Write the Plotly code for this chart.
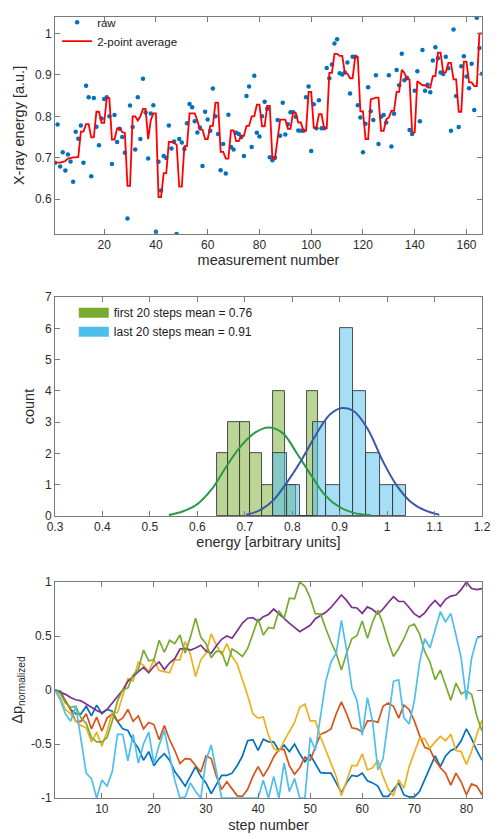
import plotly.graph_objects as go

# ---------------- top panel data ----------------
measurement = list(range(1, 167))
raw = [0.688, 0.780, 0.679, 0.713, 0.669, 0.708, 0.691, 0.642, 0.763, 0.746,
       0.778, 0.688, 0.874, 0.846, 0.655, 0.844, 0.775, 0.730, 0.795, 0.842,
       0.846, 0.800, 0.685, 0.803, 0.738, 0.770, 0.750, 0.712, 0.553, 0.826,
       0.774, 0.720, 0.846, 0.745, 0.891, 0.809, 0.698, 0.807, 0.827, 0.521,
       0.690, 0.621, 0.704, 0.699, 0.778, 0.722, 0.739, 0.516, 0.745, 0.737,
       0.721, 0.783, 0.830, 0.822, 0.788, 0.761, 0.773, 0.680, 0.811, 0.792,
       0.765, 0.867, 0.800, 0.757, 0.670, 0.733, 0.662, 0.804, 0.726, 0.720,
       0.760, 0.757, 0.750, 0.704, 0.849, 0.872, 0.726, 0.898, 0.760, 0.751,
       0.800, 0.835, 0.818, 0.701, 0.694, 0.700, 0.791, 0.753, 0.833, 0.756,
       0.781, 0.810, 0.810, 0.799, 0.766, 0.765, 0.765, 0.846, 0.872, 0.716,
       0.829, 0.771, 0.839, 0.771, 0.771, 0.917, 0.892, 0.925, 0.976, 0.986,
       0.904, 0.901, 0.906, 0.930, 0.855, 0.944, 0.944, 0.827, 0.797, 0.713,
       0.782, 0.870, 0.812, 0.791, 0.899, 0.733, 0.799, 0.803, 0.785, 0.899,
       0.727, 0.806, 0.912, 0.875, 0.951, 0.887, 0.893, 0.767, 0.757, 0.862,
       0.909, 0.788, 0.960, 0.862, 0.876, 0.858, 0.935, 0.967, 0.940, 0.906,
       0.902, 0.944, 0.916, 0.765, 1.010, 0.849, 0.774, 0.921, 0.945, 0.896,
       0.868, 0.927, 0.815, 1.038, 0.965, 0.903]
avg2 = [0.688, 0.688, 0.688, 0.690, 0.692, 0.698, 0.700, 0.701, 0.701, 0.702,
        0.763, 0.763, 0.781, 0.781, 0.749, 0.749, 0.811, 0.811, 0.784, 0.784,
        0.844, 0.844, 0.744, 0.744, 0.771, 0.771, 0.762, 0.760, 0.632, 0.632,
        0.800, 0.800, 0.790, 0.800, 0.818, 0.818, 0.745, 0.790, 0.807, 0.807,
        0.605, 0.605, 0.663, 0.663, 0.738, 0.738, 0.735, 0.732, 0.630, 0.630,
        0.728, 0.728, 0.807, 0.807, 0.807, 0.790, 0.768, 0.768, 0.745, 0.745,
        0.777, 0.777, 0.833, 0.833, 0.714, 0.714, 0.698, 0.698, 0.766, 0.766,
        0.740, 0.740, 0.753, 0.753, 0.777, 0.777, 0.800, 0.800, 0.828, 0.828,
        0.776, 0.776, 0.825, 0.825, 0.698, 0.698, 0.743, 0.792, 0.792, 0.792,
        0.770, 0.770, 0.809, 0.809, 0.785, 0.785, 0.765, 0.765, 0.859, 0.859,
        0.772, 0.772, 0.805, 0.805, 0.771, 0.771, 0.905, 0.905, 0.951, 0.951,
        0.946, 0.946, 0.905, 0.903, 0.892, 0.892, 0.944, 0.944, 0.812, 0.812,
        0.745, 0.745, 0.841, 0.843, 0.845, 0.845, 0.765, 0.765, 0.793, 0.797,
        0.813, 0.813, 0.859, 0.859, 0.912, 0.905, 0.889, 0.889, 0.761, 0.761,
        0.885, 0.880, 0.875, 0.875, 0.870, 0.869, 0.897, 0.897, 0.954, 0.954,
        0.906, 0.906, 0.929, 0.929, 0.889, 0.889, 0.811, 0.811, 0.932, 0.932,
        0.882, 0.882, 0.873, 0.873, 1.000, 1.000]

# ---------------- middle panel data ----------------
first20_edges = [0.641, 0.665, 0.689, 0.712, 0.736, 0.760, 0.784, 0.808, 0.832, 0.855]
first20_counts = [2, 3, 3, 2, 1, 4, 1, 0, 4]
last20_edges = [0.760, 0.788, 0.816, 0.844, 0.872, 0.900, 0.928, 0.956, 0.984, 1.012, 1.040]
last20_counts = [2, 1, 0, 3, 1, 6, 4, 2, 1, 1]
first_fit_x = [0.540, 0.570, 0.600, 0.630, 0.660, 0.690, 0.720, 0.750, 0.780,
               0.810, 0.840, 0.870, 0.900, 0.930, 0.965]
first_fit_y = [0.03, 0.15, 0.38, 0.85, 1.55, 2.20, 2.65, 2.83, 2.65,
               2.00, 1.30, 0.65, 0.28, 0.10, 0.03]
last_fit_x = [0.703, 0.730, 0.760, 0.790, 0.820, 0.850, 0.880, 0.905, 0.930,
              0.960, 0.990, 1.020, 1.050, 1.080, 1.110]
last_fit_y = [0.04, 0.17, 0.50, 1.10, 1.80, 2.60, 3.25, 3.45, 3.35,
              2.76, 1.78, 0.98, 0.45, 0.18, 0.04]
first_label = "first 20 steps mean = 0.76"
last_label = "last 20 steps mean = 0.91"

# ---------------- bottom panel data ----------------
steps = list(range(1, 84))
walk_blue = [0, -0.01, -0.10, -0.18, -0.22, -0.22, -0.15, -0.24, -0.14, -0.22,
             -0.18, -0.195, -0.29, -0.36, -0.375, -0.47, -0.54, -0.65, -0.57, -0.70,
             -0.635, -0.59, -0.65, -0.755, -0.82, -0.89, -0.80, -0.71, -0.80, -0.86,
             -0.96, -0.88, -0.79, -0.79, -0.77, -0.70, -0.61, -0.47, -0.46, -0.56,
             -0.455, -0.48, -0.48, -0.56, -0.51, -0.57, -0.50, -0.59, -0.665, -0.60,
             -0.68, -0.765, -0.77, -0.77, -0.86, -0.95, -0.86, -0.79, -0.80, -0.77,
             -0.84, -0.86, -0.89, -0.985, -0.985, -0.92, -0.86, -0.97, -0.99, -0.99,
             -0.94, -0.83, -0.725, -0.61, -0.71, -0.61, -0.56, -0.54, -0.47, -0.36,
             -0.45, -0.56, -0.65]
walk_red = [0, -0.03, -0.10, -0.18, -0.29, -0.29, -0.22, -0.36, -0.25, -0.38,
            -0.26, -0.22, -0.29, -0.26, -0.18, -0.29, -0.24, -0.36, -0.30, -0.32,
            -0.46, -0.33, -0.46, -0.56, -0.68, -0.635, -0.64, -0.70, -0.76, -0.61,
            -0.635, -0.80, -0.92, -0.85, -0.92, -0.98, -0.985, -0.92, -0.80, -0.71,
            -0.80, -0.72, -0.62, -0.55, -0.55, -0.70, -0.78, -0.72, -0.62, -0.65,
            -0.53, -0.41, -0.39, -0.36, -0.22, -0.11, -0.22, -0.35, -0.36, -0.39,
            -0.285, -0.285, -0.30, -0.15, -0.12, -0.15, -0.26, -0.14, -0.18, -0.285,
            -0.42, -0.53, -0.55, -0.65, -0.72, -0.77, -0.88, -0.77, -0.85, -0.97,
            -0.87, -0.89, -0.97]
walk_yellow = [0, -0.07, -0.18, -0.22, -0.29, -0.33, -0.35, -0.48, -0.39, -0.52,
               -0.38, -0.21, -0.21, -0.04, 0.105, 0.085, 0.26, 0.23, 0.17, 0.28,
               0.18, 0.17, 0.16, 0.28, 0.28, 0.45, 0.33, 0.125, 0.28, 0.34,
               0.52, 0.415, 0.325, 0.43, 0.31, 0.24, 0.095, -0.05, -0.22, -0.26,
               -0.25, -0.42, -0.54, -0.57, -0.47, -0.39, -0.30, -0.16, -0.13, -0.285,
               -0.285, -0.435, -0.56, -0.68, -0.80, -0.98, -0.83, -0.70, -0.70, -0.59,
               -0.74, -0.72, -0.65, -0.80, -0.92, -0.98, -0.83, -0.91, -0.71, -0.575,
               -0.45, -0.45, -0.54, -0.48, -0.43, -0.47, -0.41, -0.56, -0.57, -0.69,
               -0.57, -0.41, -0.28]
walk_purple = [0, -0.02, -0.04, -0.07, -0.09, -0.10, -0.13, -0.16, -0.19, -0.21,
               -0.18, -0.12, -0.06, 0.0, 0.08, 0.13, 0.17, 0.21, 0.16, 0.22,
               0.26, 0.19, 0.25, 0.29, 0.38, 0.385, 0.37, 0.39, 0.415, 0.36,
               0.34, 0.41, 0.47, 0.50, 0.48, 0.55, 0.62, 0.665, 0.67, 0.635,
               0.68, 0.70, 0.75, 0.705, 0.66, 0.62, 0.58, 0.54, 0.57, 0.60,
               0.66, 0.69, 0.72, 0.765, 0.82, 0.88, 0.83, 0.765, 0.76, 0.71,
               0.77, 0.745, 0.705, 0.75, 0.81, 0.865, 0.82, 0.82, 0.765, 0.705,
               0.675, 0.715, 0.78, 0.83, 0.775, 0.84, 0.87, 0.88, 0.93, 1.0,
               0.94, 0.93, 0.94]
walk_green = [0, -0.03, -0.12, -0.16, -0.15, -0.26, -0.31, -0.44, -0.48, -0.48,
              -0.44, -0.29, -0.10, 0.0, 0.02, 0.14, 0.19, 0.37, 0.27, 0.28,
              0.46, 0.35, 0.46, 0.43, 0.51, 0.34, 0.49, 0.665, 0.49, 0.43,
              0.30, 0.36, 0.355, 0.22, 0.38, 0.35, 0.31, 0.385, 0.52, 0.66,
              0.51, 0.58, 0.57, 0.735, 0.665, 0.85, 0.845, 1.0, 0.96, 0.855,
              0.705, 0.705, 0.57, 0.445, 0.34, 0.185, 0.34, 0.475, 0.505, 0.64,
              0.48, 0.63, 0.74, 0.61, 0.445, 0.31, 0.385, 0.475, 0.59, 0.61,
              0.52, 0.355, 0.26, 0.095, 0.185, 0.05, -0.095, 0.065, -0.035, -0.01,
              -0.04, -0.24, -0.38]
walk_cyan = [0, -0.09, -0.22, -0.29, -0.15, -0.47, -0.77, -0.82, -1.0, -0.835,
             -0.89, -0.755, -0.41, -0.41, -0.655, -0.41, -0.675, -0.50, -0.39, -0.685,
             -0.51, -0.375, -0.59, -0.835, -1.0, -0.99, -0.86, -0.94, -1.0, -0.65,
             -0.51, -0.77, -1.0, -1.0, -1.0, -1.0, -1.0, -1.0, -1.0, -1.0,
             -0.835, -1.0, -0.80, -1.0, -0.675, -0.94, -0.82, -1.0, -1.0, -0.44,
             -0.56, -0.255, 0.08, 0.26, 0.34, 0.645, 0.37, 0.02, -0.10, -0.42,
             -0.07, -0.295, -0.74, -0.635, -0.255, 0.08, 0.095, -0.255, -0.315, -0.10,
             0.25, 0.475, 0.39, 0.57, 0.725, 0.63, 0.71, 0.51, 0.295, -0.09,
             0.295, 0.475, 0.505]

# ---------------- figure ----------------
FONT = "Liberation Sans, Arial, Helvetica, sans-serif"
AX = "#7a7a7a"
TXT = "#2b2b2b"

fig = go.Figure()

fig.add_trace(go.Scatter(x=measurement, y=raw, mode="markers", name="raw",
                         marker=dict(color="#0072BD", size=4.5),
                         xaxis="x", yaxis="y", legend="legend"))
fig.add_trace(go.Scatter(x=measurement, y=avg2, mode="lines", name="2-point average",
                         line=dict(color="#FF0000", width=1.8),
                         xaxis="x", yaxis="y", legend="legend"))


def centers(edges):
    return [(edges[i] + edges[i + 1]) / 2 for i in range(len(edges) - 1)]


def widths(edges):
    return [edges[i + 1] - edges[i] for i in range(len(edges) - 1)]


fig.add_trace(go.Bar(x=centers(first20_edges), y=first20_counts, width=widths(first20_edges),
                     marker=dict(color="rgba(119,172,48,0.5)", line=dict(color="#3a3a3a", width=0.9)),
                     showlegend=False, xaxis="x2", yaxis="y2"))
fig.add_trace(go.Bar(x=centers(last20_edges), y=last20_counts, width=widths(last20_edges),
                     marker=dict(color="rgba(77,190,238,0.5)", line=dict(color="#3a3a3a", width=0.9)),
                     showlegend=False, xaxis="x2", yaxis="y2"))
fig.add_trace(go.Scatter(x=first_fit_x, y=first_fit_y, mode="lines", line=dict(color="#2A9A47", width=2, shape="spline"),
                         showlegend=False, xaxis="x2", yaxis="y2"))
fig.add_trace(go.Scatter(x=last_fit_x, y=last_fit_y, mode="lines", line=dict(color="#3B57A8", width=2, shape="spline"),
                         showlegend=False, xaxis="x2", yaxis="y2"))
fig.add_trace(go.Scatter(x=[None], y=[None], mode="lines", name=first_label,
                         line=dict(color="#77AC30", width=10), xaxis="x2", yaxis="y2", legend="legend2"))
fig.add_trace(go.Scatter(x=[None], y=[None], mode="lines", name=last_label,
                         line=dict(color="#4DBEEE", width=10), xaxis="x2", yaxis="y2", legend="legend2"))

walks = [(walk_blue, "#0072BD"), (walk_red, "#D95319"), (walk_yellow, "#EDB120"),
         (walk_purple, "#7E2F8E"), (walk_green, "#77AC30"), (walk_cyan, "#4DBEEE")]
for vals, col in walks:
    fig.add_trace(go.Scatter(x=steps, y=vals, mode="lines", line=dict(color=col, width=1.7),
                             showlegend=False, xaxis="x3", yaxis="y3"))

ax = dict(showline=True, linecolor=AX, linewidth=1, mirror="ticks", ticks="inside",
          ticklen=5, tickcolor=AX, tickfont=dict(size=12, color=TXT, family=FONT),
          showgrid=False, zeroline=False, ticklabeloverflow="allow")

fig.update_layout(
    width=499, height=839,
    margin=dict(l=55, r=9, t=8, b=39),
    paper_bgcolor="white", plot_bgcolor="white",
    font=dict(family=FONT, color=TXT),
    barmode="overlay", bargap=0,
    xaxis=dict(ax, domain=[0, 1], anchor="y", range=[1, 166],
               tickvals=[20, 40, 60, 80, 100, 120, 140, 160],
               title=dict(text="measurement number", font=dict(size=14.5), standoff=3)),
    yaxis=dict(ax, domain=[0.7222, 1], anchor="x", range=[0.5158, 1.0399],
               tickvals=[0.6, 0.7, 0.8, 0.9, 1.0], ticktext=["0.6", "0.7", "0.8", "0.9", "1"],
               title=dict(text="X-ray energy [a.u.]", font=dict(size=14.5), standoff=6)),
    xaxis2=dict(ax, domain=[0, 1], anchor="y2", range=[0.3, 1.2],
                tickvals=[0.3, 0.4, 0.5, 0.6, 0.7, 0.8, 0.9, 1.0, 1.1, 1.2],
                ticktext=["0.3", "0.4", "0.5", "0.6", "0.7", "0.8", "0.9", "1", "1.1", "1.2"],
                title=dict(text="energy [arbitrary units]", font=dict(size=14.5), standoff=3)),
    yaxis2=dict(ax, domain=[0.3611, 0.6414], anchor="x2", range=[0, 7],
                tickvals=[0, 1, 2, 3, 4, 5, 6, 7],
                title=dict(text="count", font=dict(size=14.5), standoff=6)),
    xaxis3=dict(ax, domain=[0, 1], anchor="y3", range=[1, 83],
                tickvals=[10, 20, 30, 40, 50, 60, 70, 80],
                title=dict(text="step number", font=dict(size=14.5), standoff=4)),
    yaxis3=dict(ax, domain=[0, 0.2765], anchor="x3", range=[-1, 1],
                tickvals=[-1, -0.5, 0, 0.5, 1], ticktext=["-1", "-0.5", "0", "0.5", "1"],
                title=dict(text="\u0394p<sub>normalized</sub>", font=dict(size=14.5), standoff=4)),
    legend=dict(x=0.005, y=1.012, xanchor="left", yanchor="top", bgcolor="rgba(0,0,0,0)",
                font=dict(size=11.5, color="#1a1a1a"), tracegroupgap=0),
    legend2=dict(x=0.044, y=0.64, xanchor="left", yanchor="top", bgcolor="rgba(0,0,0,0)",
                 font=dict(size=12, color="#1a1a1a"), tracegroupgap=0),
)

fig.write_html("out.html", config={"displayModeBar": False},
               post_script="document.body.style.margin='0px';document.body.style.overflow='hidden';")
